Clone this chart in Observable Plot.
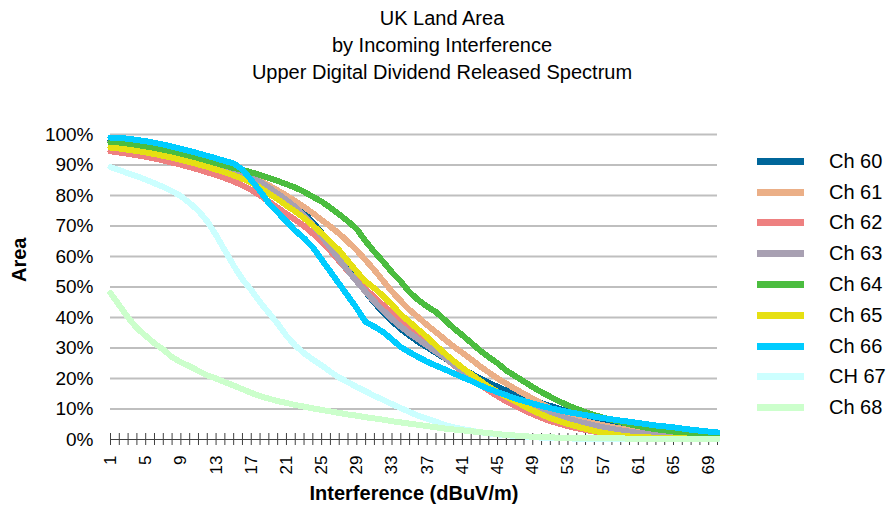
<!DOCTYPE html>
<html>
<head>
<meta charset="utf-8">
<script src="https://cdn.jsdelivr.net/npm/d3@7"></script>
<script src="https://cdn.jsdelivr.net/npm/@observablehq/plot@0.6"></script>
<style>
  body { margin: 0; background: #fff; }
  #wrap { position: relative; width: 888px; height: 510px; font-family: "Liberation Sans", Arial, sans-serif; color: #000; }
  #title { box-sizing: border-box; height: 90px; padding-top: 5px; padding-right: 4px; text-align: center; font-size: 20px; line-height: 27px; }
  #legend { position: absolute; left: 757px; top: 146px; }
  .row { display: flex; align-items: center; height: 30.8px; }
  .sw { width: 47px; height: 7px; }
  .lab { margin-left: 25px; font-size: 20px; white-space: nowrap; }
</style>
</head>
<body>
<div id="wrap">
  <div id="title"></div>
  <div id="chart"></div>
  <div id="legend"></div>
</div>
<script>
const titleLines = ["UK Land Area", "by Incoming Interference", "Upper Digital Dividend Released Spectrum"];
const xTitle = "Interference (dBuV/m)";
const yTitle = "Area";

const categories = [1,2,3,4,5,6,7,8,9,10,11,12,13,14,15,16,17,18,19,20,21,22,23,24,25,26,27,28,29,30,31,32,33,34,35,36,37,38,39,40,41,42,43,44,45,46,47,48,49,50,51,52,53,54,55,56,57,58,59,60,61,62,63,64,65,66,67,68,69,70];
const xTickLabels = [1,5,9,13,17,21,25,29,33,37,41,45,49,53,57,61,65,69];
const yTicks = [0,10,20,30,40,50,60,70,80,90,100];

const seriesNames = ["Ch 60","Ch 61","Ch 62","Ch 63","Ch 64","Ch 65","Ch 66","CH 67","Ch 68"];
const seriesColors = ["#00669A","#EBAF87","#EE8080","#A8A0B2","#4BBD3F","#E6E012","#00CCFF","#CCFFFF","#CCFFCC"];

const ch60 = [98,97.7,97.3,96.8,96.3,95.8,95.2,94.6,93.9,93.2, 92.4,91.6,90.7,89.7,88.6,87.4,86.1,84.6,82.9,81, 79,76.8,74.3,71.2,67.8,64,59.6,55.8,52,48.4, 44.8,41.6,38.8,36.2,34,32,30.2,28.4,26.6,24.8, 23.2,21.6,20,18.6,17.3,16,14.9,13.8,12.8,11.9, 11,10.1,9.2,8.4,7.6,6.8,6.1,5.4,4.8,4.2, 3.7,3.3,2.9,2.6,2.3,2.1,1.9,1.7,1.6,1.5];
const ch61 = [97.5,97.2,96.8,96.4,95.9,95.4,94.8,94.2,93.5,92.8, 92,91.2,90.3,89.4,88.4,87.3,86.1,84.8,83.3,81.7, 80,78.2,76.3,74.2,72,69.8,67.5,64.8,62,58.8, 55.5,52,48.5,45.4,42.5,40,37.5,35.2,32.8,30.5, 28.4,26.3,24,22,20,18.3,16.6,15,13.4,11.8, 10.2,8.9,7.8,6.8,6,5.3,4.7,4.1,3.6,3.2, 2.8,2.4,2.1,1.8,1.6,1.4,1.2,1.1,1,0.9];
const ch62 = [94.5,94.1,93.7,93.2,92.7,92.1,91.5,90.8,90.1,89.3, 88.5,87.6,86.7,85.7,84.6,83.3,81.8,80,78,76, 74,72,70,67.5,64.8,61.8,58.5,55.2,52,49.3, 46.6,44,41.4,38.8,36.4,34,31.6,29.2,26.8,24.5, 22.2,20,18,16,14.2,12.5,11,9.6,8.3,7.1, 6,5.2,4.4,3.7,3.1,2.6,2.2,1.8,1.5,1.2, 1,0.8,0.7,0.6,0.5,0.45,0.4,0.35,0.3,0.3];
const ch63 = [97.8,97.5,97.1,96.7,96.2,95.7,95.1,94.5,93.8,93.1, 92.3,91.5,90.6,89.6,88.5,87.3,86,84.5,82.6,80.6, 78.5,76.2,73.5,70.3,66.7,62.8,59,55.3,51.8,48.4, 45.2,42.3,39.5,37,34.8,32.8,30.8,28.8,26.8,24.6, 22.4,20.4,18.6,17,15.5,14.2,13,11.8,10.7,9.6, 8.6,7.7,6.8,6,5.3,4.6,4,3.5,3,2.6, 2.2,1.9,1.7,1.5,1.3,1.2,1.1,1,0.9,0.9];
const ch64 = [97.4,97.1,96.7,96.3,95.8,95.3,94.7,94.1,93.4,92.7, 92,91.3,90.6,89.8,89,88.4,87.6,86.7,85.8,84.8, 83.7,82.6,81.2,79.6,78,76,73.8,71.5,69,65, 61.5,58.3,54.8,51.8,48.3,45.7,43.6,41.8,39.2,36.5, 34.2,31.7,29.2,27,25,22.6,20.8,19,17.2,15.5, 14,12.5,11.2,10,9,8,7.2,6.4,5.7,5, 4.4,3.8,3.4,3,2.6,2.3,2,1.8,1.6,1.4];
const ch65 = [95.7,95.4,95,94.6,94.1,93.6,93,92.4,91.7,91, 90.2,89.4,88.5,87.6,86.6,85.5,84.2,82.6,80.6,78.8, 76.7,74.8,72.6,70.2,67.6,64.8,62,58.5,55,51.8, 49.6,47,44.2,41,38.5,36,33.5,30.8,28.2,25.8, 23.5,21.4,19.3,17.3,15.6,14,12.5,11,9.5,8.2, 7,6,5.1,4.3,3.5,2.8,2.2,1.7,1.3,1, 0.8,0.7,0.6,0.5,0.4,0.35,0.3,0.25,0.2,0.2];
const ch66 = [99,98.9,98.6,98.2,97.8,97.3,96.7,96,95.3,94.6, 93.8,93,92.2,91.3,90.5,88.5,85,81.5,77.5,74.5, 71.5,68.5,66,63,59,55,51,47,43,38.5, 37,35.2,32.8,30.3,28.6,27,25.5,24.2,23,21.7, 20.4,19.2,17.8,16.6,15.5,14.5,13.5,12.6,11.8,11, 10.3,9.6,9,8.5,8,7.5,7,6.6,6.2,5.8, 5.4,5,4.6,4.3,4,3.6,3.2,2.9,2.6,2.3];
const ch67 = [89.3,88.3,87.3,86.3,85.2,84,82.8,81.4,79.8,77.5, 75,71.5,67,62,57,52.5,49,45,41.5,38, 34,30.8,28.3,26.2,24.3,22.2,20.3,18.8,17.2,15.8, 14.3,13,11.6,10.3,9,7.8,6.8,5.8,4.8,4, 3.4,2.9,2.4,2,1.7,1.4,1.2,1,0.8,0.6, 0.5,0.4,0.35,0.3,0.3,0.25,0.2,0.2,0.2,0.15, 0.15,0.15,0.1,0.1,0.1,0.1,0.1,0.1,0.1,0.1];
const ch68 = [48,44,40,36.5,34,31.5,29.5,27,25.3,24, 22.5,21,20,18.8,17.7,16.5,15.3,14.2,13.4,12.6, 12,11.3,10.8,10.2,9.7,9.2,8.7,8.2,7.8,7.3, 6.9,6.5,6,5.6,5.2,4.8,4.4,4,3.6,3.3, 3,2.7,2.4,2.1,1.8,1.5,1.3,1.1,0.9,0.8, 0.7,0.6,0.55,0.5,0.45,0.4,0.4,0.35,0.35,0.3, 0.3,0.3,0.25,0.25,0.25,0.2,0.2,0.2,0.2,0.2];

const seriesValues = [ch60, ch61, ch62, ch63, ch64, ch65, ch66, ch67, ch68];

const table = seriesNames.flatMap((name, k) =>
  seriesValues[k].map((v, i) => ({x: categories[i], y: v, series: name})));

document.getElementById("title").innerHTML = titleLines.map(t => `<div>${t}</div>`).join("");

const legend = document.getElementById("legend");
seriesNames.forEach((name, k) => {
  const row = document.createElement("div");
  row.className = "row";
  row.innerHTML = `<div class="sw" style="background:${seriesColors[k]}"></div><div class="lab">${name}</div>`;
  legend.appendChild(row);
});

const chart = Plot.plot({
  width: 888,
  height: 420,
  marginTop: 44,
  marginBottom: 71,
  marginLeft: 110,
  marginRight: 171,
  style: {fontFamily: "'Liberation Sans', Arial, sans-serif", background: "white", color: "#000"},
  x: {domain: [categories[0], categories[categories.length - 1]]},
  y: {domain: [0, 100]},
  color: {domain: seriesNames, range: seriesColors},
  marks: [
    Plot.gridY(yTicks.filter(t => t > 0), {stroke: "#BFBFBF", strokeOpacity: 1, strokeWidth: 2}),
    Plot.axisY(yTicks, {tickSize: 0, tickPadding: 17, tickFormat: d => d + "%", fontSize: 19, label: null}),
    Plot.ruleY([0], {stroke: "#404040"}),
    Plot.ruleX(categories, {x: d => d, insetTop: 299, insetBottom: -6, stroke: "#404040"}),
    Plot.axisX(xTickLabels, {tickSize: 0, tickPadding: 16, tickRotate: -90, fontSize: 17, label: null, tickFormat: d => String(d)}),
    Plot.line(table, {x: "x", y: "y", stroke: "series", strokeWidth: 6, strokeLinejoin: "round", strokeLinecap: "round", shapeRendering: "crispEdges"}),
    Plot.text([yTitle], {text: d => d, frameAnchor: "left", rotate: -90, dx: -91, dy: -5, fontWeight: "bold", fontSize: 20}),
    Plot.text([xTitle], {text: d => d, frameAnchor: "bottom", dy: 60, fontWeight: "bold", fontSize: 20})
  ]
});
document.getElementById("chart").appendChild(chart);
</script>
</body>
</html>
